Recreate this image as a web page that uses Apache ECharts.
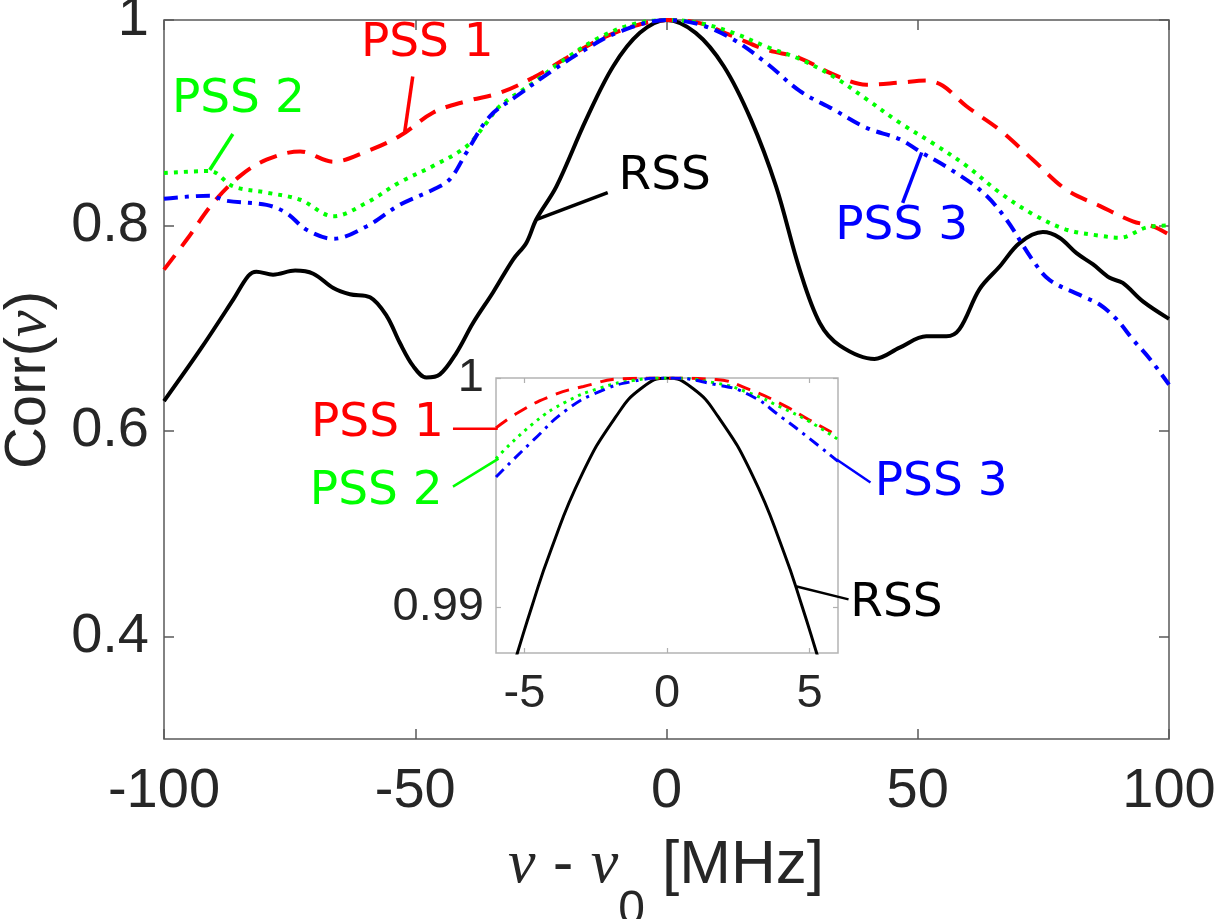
<!DOCTYPE html>
<html>
<head>
<meta charset="utf-8">
<title>Corr</title>
<script src="https://cdn.jsdelivr.net/npm/echarts@6.0.0/dist/echarts.min.js"></script>
<style>
  html, body { margin: 0; padding: 0; background: #fff; }
  #chart { width: 1216px; height: 919px; }
</style>
</head>
<body>
<div id="chart"></div>
<script>
// main panel: frequency offset [MHz] and correlation
const rssX = [-100, -92.8, -86.2, -83.2, -81.6, -78.3, -73.9, -70.3, -66.3, -63, -59, -55.7, -53.1, -50.4, -47.8, -45.1, -41.8, -38.5, -34.5, -30.5, -27.9, -25.9, -21.9, -16, -10.6, -5.3, 0, 5.8, 11.4, 16.8, 21.8, 26.5, 30.5, 34.5, 41.4, 46.4, 51.7, 55.7, 58.3, 62.3, 66.3, 70.3, 74.9, 78.2, 81.6, 84.9, 88.2, 90.8, 94.8, 100]
const rssY = [0.629, 0.679, 0.728, 0.751, 0.755, 0.752, 0.756, 0.753, 0.739, 0.733, 0.730, 0.712, 0.686, 0.663, 0.652, 0.655, 0.676, 0.705, 0.735, 0.767, 0.783, 0.806, 0.838, 0.903, 0.955, 0.9875, 1.0, 0.9875, 0.955, 0.903, 0.838, 0.757, 0.705, 0.683, 0.670, 0.681, 0.692, 0.692, 0.699, 0.738, 0.760, 0.783, 0.7935, 0.788, 0.773, 0.762, 0.749, 0.744, 0.726, 0.709]

const pss1X = [-100, -95.5, -90.2, -84.9, -79.6, -72.9, -66.3, -59.7, -53.1, -46.4, -39.8, -33.2, -26.5, -19.9, -13.3, -6.6, 0, 6.6, 13.3, 19.9, 26.5, 33.2, 39.8, 46.4, 51.7, 55, 59.7, 66.3, 72.9, 79.5, 86.2, 92.8, 96.8, 100]
const pss1Y = [0.757, 0.786, 0.822, 0.848, 0.864, 0.872, 0.862, 0.872, 0.887, 0.910, 0.921, 0.929, 0.944, 0.963, 0.981, 0.994, 1.0, 0.997, 0.984, 0.971, 0.963, 0.947, 0.937, 0.939, 0.941, 0.936, 0.916, 0.893, 0.864, 0.835, 0.819, 0.804, 0.799, 0.791]

const pss2X = [-100, -90.9, -86.2, -79.6, -72.9, -66.3, -59.7, -53.1, -46.4, -39.8, -35.8, -33.2, -26.5, -19.9, -13.3, -6.6, 0, 6.6, 13.3, 19.9, 26.5, 33.2, 39.8, 46.4, 53, 59.7, 66.3, 72.9, 79.5, 86.2, 90.2, 95.5, 100]
const pss2Y = [0.851, 0.853, 0.838, 0.832, 0.825, 0.809, 0.822, 0.842, 0.858, 0.877, 0.900, 0.916, 0.939, 0.963, 0.983, 0.996, 1.0, 0.997, 0.9875, 0.974, 0.962, 0.945, 0.923, 0.900, 0.880, 0.858, 0.832, 0.811, 0.796, 0.790, 0.788, 0.798, 0.800]

const pss3X = [-100, -90.9, -87.6, -79.6, -75.6, -71.7, -66.3, -59.7, -53.1, -46.4, -43.1, -39.8, -35.2, -29.8, -23.2, -16.6, -9.9, 0, 6.6, 13.3, 19.9, 26.5, 33.2, 39.8, 46.4, 50.4, 56.4, 63, 67.6, 72.9, 76.2, 82.8, 86.2, 89.5, 92.8, 96.2, 100]
const pss3Y = [0.826, 0.829, 0.824, 0.820, 0.812, 0.796, 0.787, 0.799, 0.820, 0.835, 0.845, 0.871, 0.906, 0.926, 0.949, 0.970, 0.9875, 1.0, 0.9956, 0.981, 0.958, 0.931, 0.913, 0.895, 0.884, 0.872, 0.855, 0.832, 0.806, 0.766, 0.747, 0.731, 0.723, 0.709, 0.689, 0.670, 0.645]

// inset: close-up of the peak
const insetRssX = [-5.45, -5.25, -4.75, -4.1, -3, -1.8, -0.9, 0, 0.9, 1.8, 3, 4.1, 4.75, 5.25, 5.45]
const insetRssY = [0.9872, 0.988, 0.990, 0.9924, 0.99575, 0.9983, 0.99955, 1.0, 0.99955, 0.9983, 0.99575, 0.9924, 0.990, 0.988, 0.9872]
const insetPss1X = [-6, -5.25, -4.09, -2.93, -1.53, 0, 1.72, 2.88, 4.05, 4.98, 6]
const insetPss1Y = [0.99782, 0.99847, 0.9992, 0.99963, 0.99997, 1.0, 0.99993, 0.9995, 0.99884, 0.99818, 0.99748]
const insetPss2X = [-6, -4.67, -3.51, -2.35, -1.2, 0, 1.72, 2.88, 4.05, 4.98, 6]
const insetPss2Y = [0.99648, 0.99804, 0.99898, 0.99956, 0.99989, 1.0, 0.99978, 0.99935, 0.99869, 0.99811, 0.99732]
const insetPss3X = [-6, -4.67, -3.51, -2.35, -1.2, 0, 1.72, 2.88, 4.05, 4.98, 6]
const insetPss3Y = [0.99568, 0.99731, 0.99862, 0.99942, 0.99985, 1.0, 0.99971, 0.99927, 0.99826, 0.99738, 0.99636]

// tick labels
const mainYTicks = [0.4, 0.6, 0.8, 1]
const insetXTicks = [-5, 0, 5]
const insetYTicks = [0.99, 1]

const RED = '#ff0000'
const GREEN = '#00ff00'
const BLUE = '#0000ff'
const BLACK = '#000000'
const INK = '#262626'
const SANS = '"Liberation Sans", Arial, Helvetica, sans-serif'
const LABEL_FONT = '"DejaVu Sans", sans-serif'

// text labels with leader lines (data coordinates)
const mainNotes = [
  { name: 'PSS 1', color: RED, at: [-47.6, 0.977], from: [-50.5, 0.945], to: [-52.1, 0.891] },
  { name: 'PSS 2', color: GREEN, at: [-85.2, 0.922], from: [-86.3, 0.889], to: [-90.9, 0.854] },
  { name: 'RSS', color: BLACK, at: [-0.35, 0.847], from: [-11.7, 0.832], to: [-25.8, 0.806] },
  { name: 'PSS 3', color: BLUE, at: [46.8, 0.799], from: [47.0, 0.822], to: [50.8, 0.871] }
]
const insetNotes = [
  { name: 'PSS 1', color: RED, at: [-10.16, 0.99801], from: [-7.51, 0.99779], to: [-5.94, 0.99779] },
  { name: 'PSS 2', color: GREEN, at: [-10.2, 0.99504], from: [-7.51, 0.99526], to: [-5.91, 0.99648] },
  { name: 'PSS 3', color: BLUE, at: [9.62, 0.99544], from: [5.95, 0.99644], to: [7.14, 0.99544] },
  { name: 'RSS', color: BLACK, at: [8.05, 0.99016], from: [4.55, 0.99090], to: [6.37, 0.99034] }
]

function pairs(xs, ys) {
  return xs.map((x, i) => [x, ys[i]])
}

function line(xs, ys, color, width, dash, axis, smooth) {
  return {
    type: 'line',
    xAxisIndex: axis,
    yAxisIndex: axis,
    data: pairs(xs, ys),
    symbol: 'none',
    smooth: smooth,
    silent: true,
    lineStyle: { color: color, width: width, type: dash, cap: 'butt' }
  }
}

function axis(grid, pos, opts) {
  return Object.assign({
    type: 'value',
    gridIndex: grid,
    position: pos,
    axisLine: { show: false, onZero: false },
    splitLine: { show: false }
  }, opts)
}

const mainTick = { inside: true, length: 10, lineStyle: { color: '#5a5a5a', width: 1.5 } }
const insetTick = { inside: true, length: 5, lineStyle: { color: '#b0b0b0', width: 1.2 } }

const chart = echarts.init(document.getElementById('chart'))

chart.setOption({
  animation: false,
  backgroundColor: '#fff',
  grid: [
    { left: 164, top: 20, width: 1005, height: 719, show: true, backgroundColor: '#fff',
      borderColor: '#5a5a5a', borderWidth: 1.5, containLabel: false, outerBoundsMode: 'none' },
    { left: 496, top: 378, width: 342, height: 275, show: true, backgroundColor: '#fff',
      borderColor: '#b4b4b4', borderWidth: 1.5, containLabel: false, outerBoundsMode: 'none' }
  ],
  xAxis: [
    axis(0, 'bottom', { min: -100, max: 100, interval: 50, axisTick: mainTick,
      axisLabel: { fontSize: 56, fontFamily: SANS, color: INK, margin: 25 } }),
    axis(0, 'top', { min: -100, max: 100, interval: 50, axisTick: mainTick, axisLabel: { show: false } }),
    axis(1, 'bottom', { min: -6, max: 6, axisTick: Object.assign({ customValues: insetXTicks }, insetTick),
      axisLabel: { customValues: insetXTicks, fontSize: 47, fontFamily: SANS, color: INK, margin: 18 } }),
    axis(1, 'top', { min: -6, max: 6, axisTick: Object.assign({ customValues: insetXTicks }, insetTick),
      axisLabel: { show: false } })
  ],
  yAxis: [
    axis(0, 'left', { min: 0.3, max: 1, axisTick: Object.assign({ customValues: mainYTicks }, mainTick),
      axisLabel: { customValues: mainYTicks, fontSize: 56, fontFamily: SANS, color: INK, margin: 15 } }),
    axis(0, 'right', { min: 0.3, max: 1, axisTick: Object.assign({ customValues: mainYTicks }, mainTick),
      axisLabel: { show: false } }),
    axis(1, 'left', { min: 0.988, max: 1, axisTick: Object.assign({ customValues: insetYTicks }, insetTick),
      axisLabel: { customValues: insetYTicks, fontSize: 47, fontFamily: SANS, color: INK, margin: 12,
        formatter: v => (v === 1 ? '1' : v.toFixed(2)) } }),
    axis(1, 'right', { min: 0.988, max: 1, axisTick: Object.assign({ customValues: insetYTicks }, insetTick),
      axisLabel: { show: false } })
  ],
  series: [
    line(rssX, rssY, BLACK, 4, 'solid', 0, 0.35),
    line(pss1X, pss1Y, RED, 4, [18, 11], 0, 0.35),
    line(pss2X, pss2Y, GREEN, 4, [4, 6], 0, 0.35),
    line(pss3X, pss3Y, BLUE, 4, [14, 7, 4, 7], 0, 0.35),
    line(insetRssX, insetRssY, BLACK, 3, 'solid', 2, 0.5),
    line(insetPss1X, insetPss1Y, RED, 3, [14, 9], 2, 0.5),
    line(insetPss2X, insetPss2Y, GREEN, 3, [3, 5], 2, 0.5),
    line(insetPss3X, insetPss3Y, BLUE, 3, [11, 6, 3, 6], 2, 0.5)
  ]
})

function notes(list, idx, width) {
  const out = []
  const finder = { xAxisIndex: idx, yAxisIndex: idx }
  list.forEach(n => {
    const a = chart.convertToPixel(finder, n.from)
    const b = chart.convertToPixel(finder, n.to)
    const t = chart.convertToPixel(finder, n.at)
    out.push({ type: 'line', z: 50, silent: true,
      shape: { x1: a[0], y1: a[1], x2: b[0], y2: b[1] },
      style: { stroke: n.color, lineWidth: width } })
    out.push({ type: 'text', z: 50, silent: true, x: t[0], y: t[1],
      style: { text: n.name, fill: n.color, fontSize: 47, fontFamily: LABEL_FONT,
        align: 'center', verticalAlign: 'middle' } })
  })
  return out
}

const graphics = notes(mainNotes, 0, 3.5).concat(notes(insetNotes, 2, 2.5))

// axis titles
graphics.push({
  type: 'text', silent: true, x: 29, y: 380, rotation: Math.PI / 2,
  style: {
    text: 'Corr({i|ν})', fill: INK, fontSize: 58, fontFamily: SANS,
    align: 'center', verticalAlign: 'middle',
    rich: { i: { fontSize: 60, fontFamily: '"Liberation Serif", serif', fontStyle: 'italic', fill: INK } }
  }
})
graphics.push({
  type: 'text', silent: true, x: 666, y: 866,
  style: {
    text: '{i|ν} - {i|ν}{s|0} [MHz]', fill: INK, fontSize: 62, fontFamily: SANS,
    align: 'center', verticalAlign: 'middle',
    rich: {
      i: { fontSize: 62, fontFamily: '"Liberation Serif", serif', fontStyle: 'italic', fill: INK },
      s: { fontSize: 48, fontFamily: SANS, fill: INK, padding: [90, 0, 0, 0] }
    }
  }
})

chart.setOption({ graphic: graphics })
</script>
</body>
</html>
